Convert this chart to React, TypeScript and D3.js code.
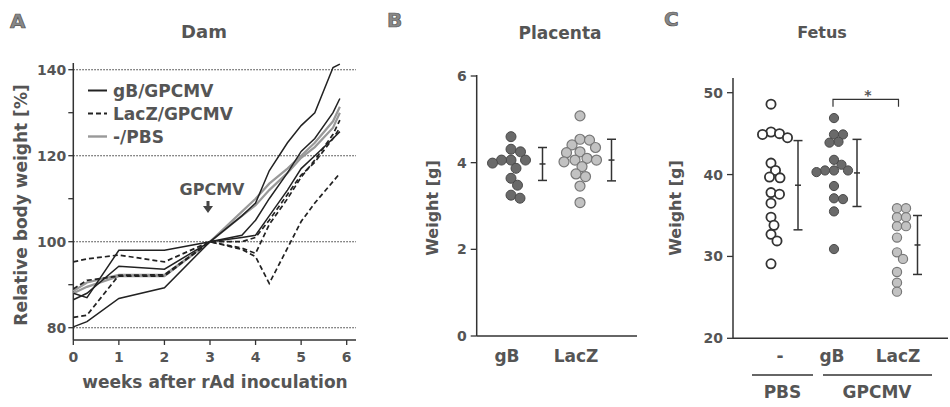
import React from "react";
import * as d3 from "d3";

// ---------- Panel A: Dam ----------
const weeks = [0, 0.3, 1, 2, 3, 3.7, 4, 4.3, 4.7, 5, 5.3, 5.7, 5.85];
const gB1 = [88, 87, 98, 98, 100, 106, 109, 116.5, 123, 127, 130, 140.5, 141.3];
const gB2 = [86.5, 88, 94.3, 93.6, 100, 101.5, 105, 110, 116, 121, 124, 130, 133.3];
const gB3 = [80.2, 81.4, 86.8, 89.3, 100, 101, 101.5, 106, 112, 117, 120, 124, 125.6];
const lacZ1 = [95.3, 96, 96.9, 95.3, 100, 98.2, 96.5, 90.3, 98.5, 104.7, 109, 114, 115.9];
const lacZ2 = [82.4, 82.9, 92.2, 92.3, 100, 98.5, 97.3, 104, 110, 115, 119, 125, 128.3];
const lacZ3 = [89, 91, 92, 92, 100, 100, 101, 105, 111, 115.5, 118.5, 124, 126.5];
const pbs1 = [88.5, 90.5, 92.3, 92.3, 100, 107, 110, 113.5, 117, 120, 123, 128, 131.4];
const pbs2 = [88, 89.5, 92, 92, 100, 106, 108.5, 112, 116, 119.5, 122, 126.5, 130];
const damLegend = ["gB/GPCMV", "LacZ/GPCMV", "-/PBS"];
const damYTicks = [80, 100, 120, 140];
const damYMinor = [90, 110, 130];
const damXTicks = [0, 1, 2, 3, 4, 5, 6];

// ---------- Panel B: Placenta ----------
const placentaCats = ["gB", "LacZ"];
const placentaGB = [4.6, 4.31, 4.25, 4.06, 4.06, 4.06, 3.99, 3.87, 3.64, 3.48, 3.25, 3.18];
const placentaLacZ = [5.08, 4.54, 4.52, 4.41, 4.35, 4.25, 4.23, 4.1, 4.06, 4.06, 4.02, 3.91, 3.74, 3.68, 3.46, 3.08];
const placentaMean = [3.97, 4.06];
const placentaSD = [0.38, 0.48];
const placentaTicks = [0, 2, 4, 6];

// ---------- Panel C: Fetus ----------
const fetusCats = ["-", "gB", "LacZ"];
const fetusPBS = [48.6, 45.2, 45.0, 44.9, 44.5, 41.4, 40.5, 39.7, 39.6, 37.8, 37.6, 36.5, 34.8, 33.8, 32.7, 31.9, 29.1];
const fetusGB = [46.9, 44.9, 44.9, 44.0, 43.9, 41.8, 41.2, 40.5, 40.5, 40.5, 40.3, 38.6, 37.1, 37.0, 35.5, 30.9];
const fetusLacZ = [35.9, 35.9, 34.8, 34.8, 33.7, 33.7, 32.3, 30.5, 29.7, 28.1, 26.8, 25.7];
const fetusMean = [38.7, 40.2, 31.4];
const fetusSD = [5.45, 4.1, 3.6];
const fetusTicks = [20, 30, 40, 50];
const fetusGroups = ["PBS", "GPCMV"];

const FONT = "DejaVu Sans";
const TXT = "#555";
const AX = "#333";

function swarm(values: number[], y: (v: number) => number, cx: number, r: number) {
  const placed: { x: number; y: number; v: number }[] = [];
  const sorted = [...values].sort((a, b) => b - a);
  const minD = 2 * r - 0.6;
  for (const v of sorted) {
    const py = y(v);
    let chosen = cx;
    for (let k = 0; k < 400; k++) {
      const off = Math.ceil(k / 2) * 0.5 * (k % 2 === 1 ? 1 : -1);
      const px = cx + off;
      const ok = placed.every((p) => Math.hypot(p.x - px, p.y - py) >= minD);
      if (ok) {
        chosen = px;
        break;
      }
    }
    placed.push({ x: chosen, y: py, v });
  }
  return placed;
}

function ErrBar({ x, y0, y1, ym }: { x: number; y0: number; y1: number; ym: number }) {
  return (
    <g stroke={AX} strokeWidth={1.5}>
      <line x1={x} x2={x} y1={y0} y2={y1} />
      <line x1={x - 4.5} x2={x + 4.5} y1={y0} y2={y0} />
      <line x1={x - 4.5} x2={x + 4.5} y1={y1} y2={y1} />
      <line x1={x - 3} x2={x + 3} y1={ym} y2={ym} />
    </g>
  );
}

function PanelA() {
  const x = d3.scaleLinear().domain([0, 6]).range([73.3, 346.7]);
  const y = d3.scaleLinear().domain([80, 140]).range([327.7, 69.7]);
  const x0 = 73.3, xEnd = 356, yBot = 340, yTop = 63;
  const line = d3
    .line<number>()
    .x((_, i) => x(weeks[i]))
    .y((v) => y(v));
  const solid = [gB1, gB2, gB3];
  const dashed = [lacZ1, lacZ2, lacZ3];
  const gray = [pbs1, pbs2];
  const legendY = [90.5, 113.5, 136.5];
  return (
    <g fontFamily={FONT} fontWeight="bold">
      <text x={10} y={28} fontSize={20} fill="#888" stroke="#555" strokeWidth={0.7}>A</text>
      <text x={204} y={38} fontSize={18} fill={TXT} textAnchor="middle">Dam</text>
      {damYTicks.map((t) => (
        <line key={"g" + t} x1={x0} x2={xEnd} y1={y(t)} y2={y(t)} stroke={AX} strokeWidth={1.1} strokeDasharray="1.5,1.5" />
      ))}
      <line x1={x0} x2={x0} y1={yTop} y2={yBot} stroke={AX} strokeWidth={1.5} />
      <line x1={x0} x2={xEnd} y1={yBot} y2={yBot} stroke={AX} strokeWidth={1.5} />
      {damYTicks.concat(damYMinor).map((t) => (
        <line key={"t" + t} x1={x0 - 5} x2={x0} y1={y(t)} y2={y(t)} stroke={AX} strokeWidth={1.3} />
      ))}
      {damYTicks.map((t) => (
        <text key={"l" + t} x={x0 - 7} y={y(t)} dy="0.36em" fontSize={14} fill={TXT} textAnchor="end">{t}</text>
      ))}
      {damXTicks.map((t) => (
        <g key={"x" + t}>
          <line x1={x(t)} x2={x(t)} y1={yBot} y2={yBot + 5} stroke={AX} strokeWidth={1.3} />
          <text x={x(t)} y={362} fontSize={14} fill={TXT} textAnchor="middle">{t}</text>
        </g>
      ))}
      <text x={215} y={388} fontSize={17} fill={TXT} textAnchor="middle">weeks after rAd inoculation</text>
      <text transform="translate(27,205) rotate(-90)" fontSize={17} fill={TXT} textAnchor="middle">Relative body weight [%]</text>
      {gray.map((s, i) => (
        <path key={"gr" + i} d={line(s) || ""} fill="none" stroke="#999" strokeWidth={2.2} />
      ))}
      {solid.map((s, i) => (
        <path key={"s" + i} d={line(s) || ""} fill="none" stroke="#222" strokeWidth={1.5} />
      ))}
      {dashed.map((s, i) => (
        <path key={"d" + i} d={line(s) || ""} fill="none" stroke="#222" strokeWidth={1.7} strokeDasharray="5,3" />
      ))}
      <line x1={88} x2={107} y1={legendY[0]} y2={legendY[0]} stroke="#222" strokeWidth={2} />
      <line x1={88} x2={107} y1={legendY[1]} y2={legendY[1]} stroke="#222" strokeWidth={2} strokeDasharray="5,3" />
      <line x1={88} x2={107} y1={legendY[2]} y2={legendY[2]} stroke="#999" strokeWidth={2.4} />
      {damLegend.map((l, i) => (
        <text key={l} x={113} y={legendY[i] + 6} fontSize={17} fill={TXT}>{l}</text>
      ))}
      <text x={212} y={195} fontSize={16} fill={TXT} textAnchor="middle">GPCMV</text>
      <path d="M206.5,201 L209.5,201 L209.5,206 L213,206 L208,213 L203,206 L206.5,206 Z" fill="#444" />
    </g>
  );
}

function PanelB() {
  const y = d3.scaleLinear().domain([0, 6]).range([336, 76]);
  const xc = d3.scalePoint<string>().domain(placentaCats).range([511, 580]);
  const x0 = 476.7, xEnd = 637, yBot = 336;
  const r = 5;
  const gbDots = swarm(placentaGB, y, xc("gB")!, r);
  const lzDots = swarm(placentaLacZ, y, xc("LacZ")!, r);
  return (
    <g fontFamily={FONT} fontWeight="bold">
      <text x={387} y={27} fontSize={20} fill="#888" stroke="#555" strokeWidth={0.7}>B</text>
      <text x={560} y={39} fontSize={17} fill={TXT} textAnchor="middle">Placenta</text>
      <line x1={x0} x2={x0} y1={75} y2={yBot} stroke={AX} strokeWidth={1.5} />
      <line x1={x0} x2={xEnd} y1={yBot} y2={yBot} stroke={AX} strokeWidth={1.5} />
      {placentaTicks.map((t) => (
        <g key={t}>
          <line x1={x0 - 6} x2={x0} y1={y(t)} y2={y(t)} stroke={AX} strokeWidth={1.3} />
          <text x={x0 - 10} y={y(t)} dy="0.36em" fontSize={14} fill={TXT} textAnchor="end">{t}</text>
        </g>
      ))}
      <text transform="translate(438,208) rotate(-90)" fontSize={16} fill={TXT} textAnchor="middle">Weight [g]</text>
      {placentaCats.map((c) => (
        <text key={c} x={xc(c)! - 4} y={362} fontSize={17} fill={TXT} textAnchor="middle">{c}</text>
      ))}
      {gbDots.map((p, i) => (
        <circle key={"a" + i} cx={p.x} cy={p.y} r={r} fill="#6a6a6a" stroke="#4a4a4a" strokeWidth={1} />
      ))}
      {lzDots.map((p, i) => (
        <circle key={"b" + i} cx={p.x} cy={p.y} r={r} fill="#c2c2c2" stroke="#777" strokeWidth={1.2} />
      ))}
      {placentaCats.map((c, i) => (
        <ErrBar key={c} x={xc(c)! + 31.5} y0={y(placentaMean[i] + placentaSD[i])} y1={y(placentaMean[i] - placentaSD[i])} ym={y(placentaMean[i])} />
      ))}
    </g>
  );
}

function PanelC() {
  const y = d3.scaleLinear().domain([20, 50]).range([338.3, 92.7]);
  const xc = d3.scalePoint<string>().domain(fetusCats).range([771, 897]);
  const x0 = 733, xEnd = 948, yBot = 338.3;
  const r = 4.6;
  const pbs = swarm(fetusPBS, y, xc("-")!, r);
  const gb = swarm(fetusGB, y, xc("gB")!, r);
  const lz = swarm(fetusLacZ, y, xc("LacZ")!, r);
  const barOff = [27, 23, 20.5];
  const groupLines = [
    [752, 813],
    [823, 932],
  ];
  return (
    <g fontFamily={FONT} fontWeight="bold">
      <text x={664} y={26} fontSize={20} fill="#888" stroke="#555" strokeWidth={0.7}>C</text>
      <text x={822} y={38} fontSize={16} fill={TXT} textAnchor="middle">Fetus</text>
      <line x1={x0} x2={x0} y1={78} y2={yBot} stroke={AX} strokeWidth={1.5} />
      <line x1={x0} x2={xEnd} y1={yBot} y2={yBot} stroke={AX} strokeWidth={1.5} />
      {fetusTicks.map((t) => (
        <g key={t}>
          <line x1={x0 - 6} x2={x0} y1={y(t)} y2={y(t)} stroke={AX} strokeWidth={1.3} />
          <text x={x0 - 10} y={y(t)} dy="0.36em" fontSize={14} fill={TXT} textAnchor="end">{t}</text>
        </g>
      ))}
      <text transform="translate(681,208) rotate(-90)" fontSize={16} fill={TXT} textAnchor="middle">Weight [g]</text>
      {fetusCats.map((c) => (
        <text key={c} x={c === "-" ? xc(c)! + 9 : xc(c)! + (c === "gB" ? -2 : 1)} y={362} fontSize={17} fill={TXT} textAnchor="middle">{c}</text>
      ))}
      {groupLines.map((g, i) => (
        <g key={i}>
          <line x1={g[0]} x2={g[1]} y1={375} y2={375} stroke={AX} strokeWidth={1.3} />
          <text x={(g[0] + g[1]) / 2 + (i === 0 ? 0 : -0.5)} y={398} fontSize={17} fill={TXT} textAnchor="middle">{fetusGroups[i]}</text>
        </g>
      ))}
      {pbs.map((p, i) => (
        <circle key={"p" + i} cx={p.x} cy={p.y} r={r} fill="#fff" stroke="#333" strokeWidth={1.8} />
      ))}
      {gb.map((p, i) => (
        <circle key={"g" + i} cx={p.x} cy={p.y} r={r} fill="#6a6a6a" stroke="#4a4a4a" strokeWidth={1} />
      ))}
      {lz.map((p, i) => (
        <circle key={"l" + i} cx={p.x} cy={p.y} r={r} fill="#c2c2c2" stroke="#777" strokeWidth={1.2} />
      ))}
      {fetusCats.map((c, i) => (
        <ErrBar key={c} x={xc(c)! + barOff[i]} y0={y(fetusMean[i] + fetusSD[i])} y1={y(fetusMean[i] - fetusSD[i])} ym={y(fetusMean[i])} />
      ))}
      <path d={`M${xc("gB")! - 1},106.7 L${xc("gB")! - 1},99.3 L${xc("LacZ")! + 1.5},99.3 L${xc("LacZ")! + 1.5},106.7`} fill="none" stroke={AX} strokeWidth={1.2} />
      <text x={868} y={100} fontSize={14} fill={TXT} textAnchor="middle">*</text>
    </g>
  );
}

export default function App() {
  return (
    <svg width={950} height={407} style={{ position: "absolute", left: 0, top: 0, background: "#fff" }}>
      <rect width={950} height={407} fill="#fff" />
      <PanelA />
      <PanelB />
      <PanelC />
    </svg>
  );
}
